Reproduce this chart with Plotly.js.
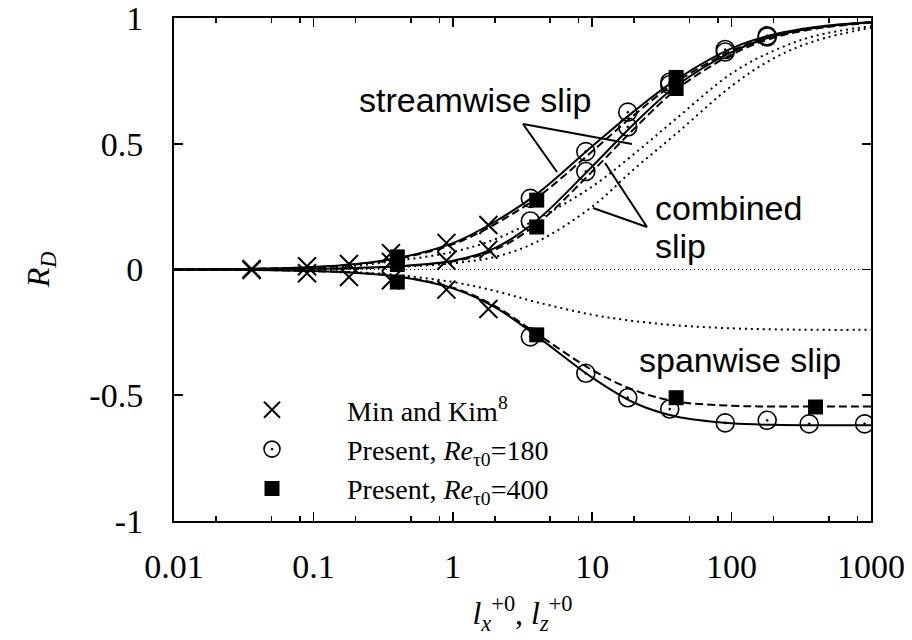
<!DOCTYPE html>
<html>
<head>
<meta charset="utf-8">
<script src="https://cdn.plot.ly/plotly-3.0.1.min.js"></script>
<style>html,body{margin:0;padding:0;background:#fff;}#chart{width:912px;height:640px;}</style>
</head>
<body>
<div id="chart"></div>
<script>
// ---- data ----
var curveX = [0.01, 0.03, 0.1, 0.2, 0.4, 1, 2, 4, 10, 20, 40, 100, 200, 400, 1000];
// predictions, Re_tau0 = 180 (solid)
var stream180 = [0.0, 0.002, 0.01, 0.022, 0.045, 0.105, 0.19, 0.30, 0.49, 0.63, 0.755, 0.88, 0.935, 0.965, 0.985];
var comb180   = [0.0, 0.001, 0.003, 0.006, 0.013, 0.035, 0.085, 0.195, 0.41, 0.58, 0.73, 0.865, 0.928, 0.962, 0.984];
var span180   = [0.0, -0.001, -0.006, -0.013, -0.028, -0.075, -0.15, -0.265, -0.43, -0.53, -0.585, -0.612, -0.618, -0.62, -0.62];
// predictions, Re_tau0 = 400 (dashed)
var stream400 = [0.0, 0.002, 0.009, 0.02, 0.042, 0.1, 0.18, 0.285, 0.47, 0.615, 0.745, 0.87, 0.93, 0.962, 0.983];
var comb400   = [0.0, 0.001, 0.003, 0.006, 0.012, 0.032, 0.078, 0.18, 0.39, 0.56, 0.715, 0.855, 0.922, 0.958, 0.982];
var span400   = [0.0, -0.001, -0.006, -0.013, -0.027, -0.072, -0.145, -0.255, -0.40, -0.48, -0.525, -0.542, -0.545, -0.545, -0.545];
// dotted curves
var streamDot = [0.0, 0.001, 0.006, 0.015, 0.035, 0.07, 0.12, 0.2, 0.33, 0.46, 0.6, 0.78, 0.87, 0.93, 0.968];
var combDot   = [0.0, 0.0, 0.002, 0.004, 0.01, 0.025, 0.05, 0.11, 0.25, 0.40, 0.54, 0.73, 0.84, 0.91, 0.962];
var spanDot   = [0.0, -0.001, -0.005, -0.011, -0.022, -0.05, -0.085, -0.13, -0.18, -0.205, -0.222, -0.234, -0.238, -0.24, -0.24];
var zeroX = [0.01, 1000];
var zeroY = [0, 0];

// Min and Kim (crosses)
var mkStreamX = [0.036, 0.09, 0.18, 0.36, 0.9, 1.8];
var mkStreamY = [0.002, 0.013, 0.022, 0.065, 0.106, 0.177];
var mkCombX = [0.36, 0.9, 1.8];
var mkCombY = [0.03, 0.035, 0.079];
var mkSpanX = [0.036, 0.09, 0.18, 0.36, 0.9, 1.8];
var mkSpanY = [-0.002, -0.015, -0.03, -0.043, -0.08, -0.157];

// Present, Re_tau0 = 180 (circles)
var p180StreamX = [3.6, 9, 18, 36, 90, 180];
var p180StreamY = [0.283, 0.469, 0.626, 0.745, 0.875, 0.93];
var p180CombX = [3.6, 9, 18, 36, 90, 180];
var p180CombY = [0.193, 0.39, 0.567, 0.735, 0.865, 0.925];
var p180SpanX = [3.6, 9, 18, 36, 90, 180, 360, 900];
var p180SpanY = [-0.268, -0.413, -0.51, -0.555, -0.61, -0.60, -0.614, -0.614];

// Present, Re_tau0 = 400 (squares)
var p400StreamX = [0.4, 4, 40];
var p400StreamY = [0.05, 0.276, 0.764];
var p400CombX = [0.4, 4, 40];
var p400CombY = [0.02, 0.169, 0.72];
var p400SpanX = [0.4, 4, 40, 400];
var p400SpanY = [-0.05, -0.26, -0.51, -0.547];

var xTickVals = [0.01, 0.1, 1, 10, 100, 1000];
var xTickText = ['0.01', '0.1', '1', '10', '100', '1000'];
var xMinorVals = [0.02, 0.05, 0.08, 0.2, 0.5, 0.8, 2, 5, 8, 20, 50, 80, 200, 500, 800];
var yTickVals = [-1, -0.5, 0, 0.5, 1];
var yTickText = ['-1', '-0.5', '0', '0.5', '1'];

var legendNames = ['Min and Kim<sup>8</sup>', 'Present, <i>Re</i><sub>τ0</sub>=180', 'Present, <i>Re</i><sub>τ0</sub>=400'];

// ---- traces ----
var K = '#000';
function line(x, y, dash, w) {
  return {x: x, y: y, type: 'scatter', mode: 'lines', showlegend: false, hoverinfo: 'skip',
          line: {color: K, width: w, dash: dash, shape: 'spline', smoothing: 1}};
}
var SOLID = 'solid', DASH = '8px,4px', DOT = '2px,4px';
var traces = [
  line(zeroX, zeroY, '1px,3px', 1),
  line(curveX, spanDot, DOT, 2),
  line(curveX, combDot, DOT, 2),
  line(curveX, streamDot, DOT, 2),
  line(curveX, stream400, DASH, 2),
  line(curveX, comb400, DASH, 2),
  line(curveX, span400, DASH, 2),
  line(curveX, stream180, SOLID, 2),
  line(curveX, comb180, SOLID, 2),
  line(curveX, span180, SOLID, 2)
];
var crossM = {symbol: 'x-thin-open', size: 18, color: K, line: {color: K, width: 2}};
var circM = {symbol: 'circle-open-dot', size: 18, color: K, line: {color: K, width: 1.6}};
var sqM = {symbol: 'square', size: 15, color: K, line: {width: 0}};
function pts(x, y, m, grp, name, show, rank) {
  return {x: x, y: y, type: 'scatter', mode: 'markers', marker: m, legendgroup: grp,
          name: name, showlegend: show, legendrank: rank, hoverinfo: 'skip'};
}
traces.push(
  pts(mkStreamX, mkStreamY, crossM, 'mk', legendNames[0], true, 1),
  pts(mkCombX, mkCombY, crossM, 'mk', legendNames[0], false, 1),
  pts(mkSpanX, mkSpanY, crossM, 'mk', legendNames[0], false, 1),
  pts(p180StreamX, p180StreamY, circM, 'p180', legendNames[1], true, 2),
  pts(p180CombX, p180CombY, circM, 'p180', legendNames[1], false, 2),
  pts(p180SpanX, p180SpanY, circM, 'p180', legendNames[1], false, 2),
  pts(p400StreamX, p400StreamY, sqM, 'p400', legendNames[2], true, 3),
  pts(p400CombX, p400CombY, sqM, 'p400', legendNames[2], false, 3),
  pts(p400SpanX, p400SpanY, sqM, 'p400', legendNames[2], false, 3)
);

var SERIF = 'Liberation Serif, Times New Roman, serif';
var SANS = 'Liberation Sans, Arial, sans-serif';
function seg(x0, y0, x1, y1) {
  return {type: 'line', xref: 'paper', yref: 'paper', x0: x0, y0: y0, x1: x1, y1: y1,
          line: {color: K, width: 2}};
}
function label(t, x, y, xa) {
  return {text: t, xref: 'paper', yref: 'paper', x: x, y: y, xanchor: xa, yanchor: 'middle',
          showarrow: false, font: {family: SANS, size: 34, color: K}};
}

var layout = {
  width: 912, height: 640,
  margin: {l: 174, r: 41, t: 18, b: 119},
  paper_bgcolor: '#fff', plot_bgcolor: '#fff',
  font: {family: SERIF, color: K},
  showlegend: true,
  legend: {x: 0.033, y: 0.2704, xanchor: 'left', yanchor: 'top', bgcolor: 'rgba(0,0,0,0)',
           borderwidth: 0, itemwidth: 140, font: {family: SERIF, size: 28, color: K},
           traceorder: 'normal', tracegroupgap: 0},
  xaxis: {type: 'log', range: [-2, 3], tickmode: 'array', tickvals: xTickVals, ticktext: xTickText,
          ticks: 'inside', ticklen: 9, tickwidth: 1.5, tickcolor: K, showline: true, linewidth: 2,
          linecolor: K, mirror: 'ticks', showgrid: false, zeroline: false,
          ticklabelstandoff: 14, ticklabeloverflow: 'allow', automargin: false,
          minor: {tickmode: 'array', tickvals: xMinorVals, ticks: 'inside', ticklen: 5, tickwidth: 1.5, tickcolor: K, showgrid: false},
          tickfont: {family: SERIF, size: 34, color: K},
          title: {text: '<i>l</i><sub><i>x</i></sub><sup>+0</sup>, <i>l</i><sub><i>z</i></sub><sup>+0</sup>',
                  font: {family: SERIF, size: 32, color: K}, standoff: 18}},
  yaxis: {range: [-1.0005, 1.0005], tickmode: 'array', tickvals: yTickVals, ticktext: yTickText,
          ticks: 'inside', ticklen: 9, tickwidth: 1.5, tickcolor: K, showline: true, linewidth: 2,
          linecolor: K, mirror: 'ticks', showgrid: false, zeroline: false,
          ticklabelstandoff: 22, ticklabeloverflow: 'allow', automargin: false,
          tickfont: {family: SERIF, size: 34, color: K},
          title: {text: '<i>R<sub>D</sub></i>', font: {family: SERIF, size: 32, color: K}, standoff: 30}},
  shapes: [
    seg(0.5007, 0.7893, 0.5495, 0.6938),
    seg(0.5007, 0.7893, 0.6571, 0.7495),
    seg(0.6786, 0.5845, 0.6184, 0.7117),
    seg(0.6786, 0.5845, 0.6011, 0.6223)
  ],
  annotations: [
    label('streamwise slip', 0.6011, 0.8370, 'right'),
    label('combined', 0.6872, 0.6223, 'left'),
    label('slip', 0.6872, 0.5467, 'left'),
    label('spanwise slip', 0.6643, 0.3201, 'left')
  ]
};

Plotly.newPlot('chart', traces, layout, {displayModeBar: false, staticPlot: true});
</script>
</body>
</html>
